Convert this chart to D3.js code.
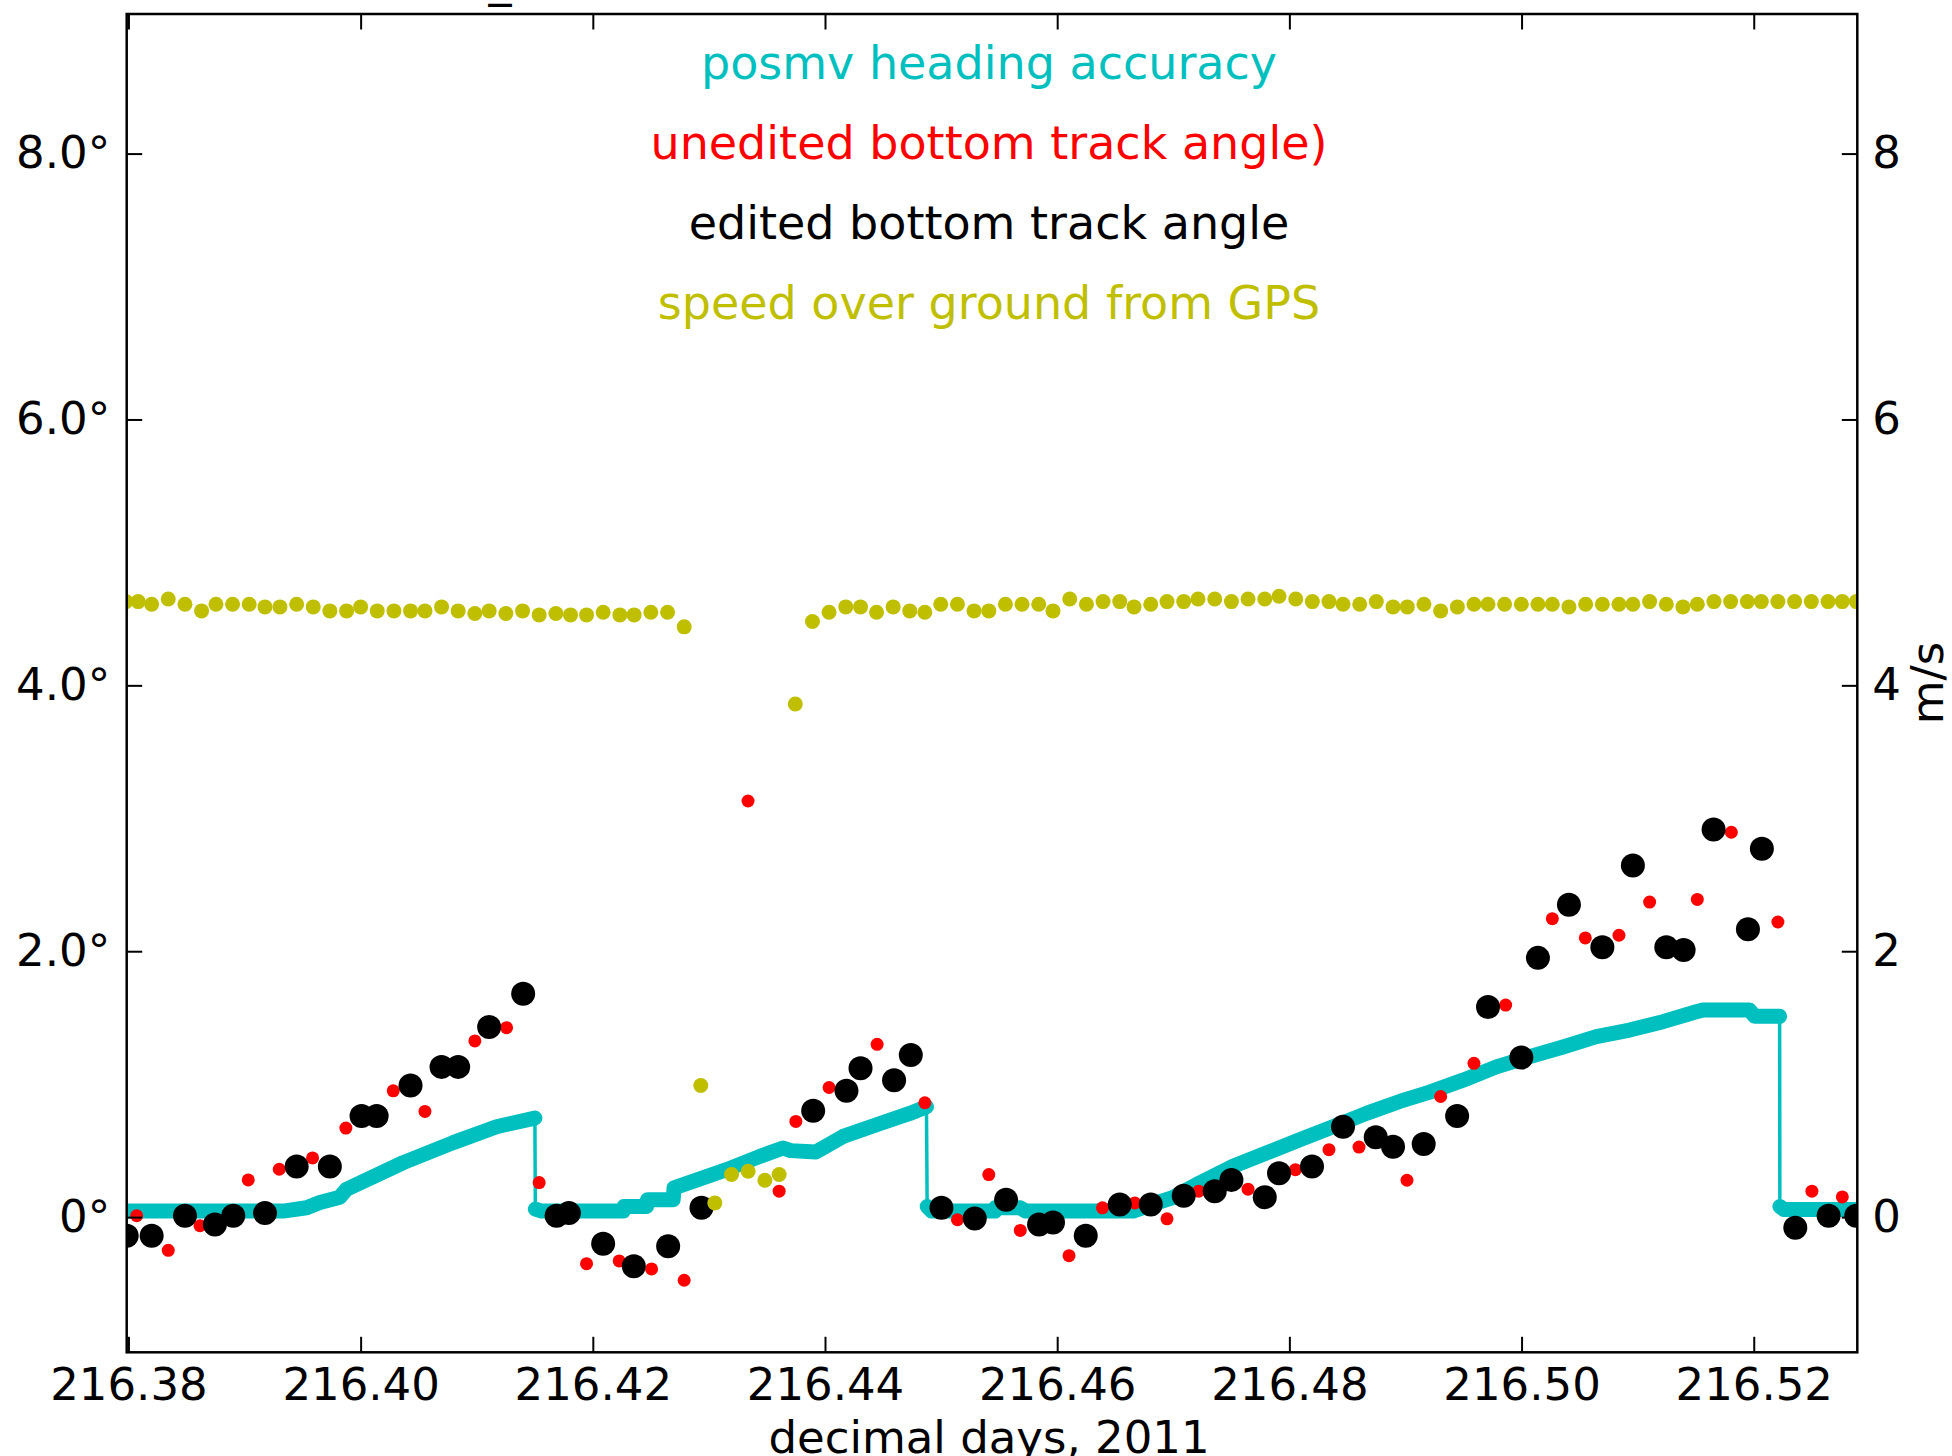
<!DOCTYPE html>
<html>
<head>
  <meta charset="utf-8">
  <title>posmv heading accuracy / bottom track angle</title>
  <script src="https://d3js.org/d3.v7.min.js"></script>
  <style type="text/css">
    body { margin: 0; padding: 0; background: #fff; }
    svg { display: block; font-family: "DejaVu Sans", sans-serif; }
  </style>
</head>
<body>
  <div id="chart"></div>
  <script>

    // axes
    var xTicks = [216.38, 216.40, 216.42, 216.44, 216.46, 216.48, 216.50, 216.52];
    var yTicks = [0, 2, 4, 6, 8];
    var legendLabels = ["posmv heading accuracy", "unedited bottom track angle)", "edited bottom track angle", "speed over ground from GPS"];
    var legendColors = ["#00bfbf", "#ff0000", "#000000", "#bfbf00"];

    // posmv heading accuracy (deg), vertices of the trace; a new run starts at each reset index
    var posmvDay = [216.3790, 216.39333, 216.39535, 216.39649, 216.39821, 216.39879, 216.40367, 216.40797, 216.41171, 216.41501,
      216.41505, 216.41560, 216.42261, 216.42270, 216.42463, 216.42470, 216.42692, 216.42700, 216.43152, 216.43439, 216.43639, 216.43705, 216.43921, 216.44156, 216.44444, 216.44730, 216.44874,
      216.44880, 216.44920, 216.45462, 216.45470, 216.45680, 216.45730, 216.46653, 216.46855, 216.46995, 216.47228, 216.47515, 216.47802, 216.48089, 216.48376, 216.48663, 216.48950, 216.49209, 216.49496, 216.49783, 216.50070, 216.50357, 216.50644, 216.50931, 216.51218, 216.51505, 216.51560, 216.51965, 216.52008, 216.52223,
      216.52225, 216.52260, 216.5300];
    var posmvAcc = [0.045, 0.045, 0.07, 0.11, 0.15, 0.21, 0.41, 0.56, 0.68, 0.745,
      0.06, 0.045, 0.045, 0.08, 0.08, 0.13, 0.13, 0.22, 0.357, 0.457, 0.52, 0.50, 0.49, 0.607, 0.695, 0.78, 0.83,
      0.08, 0.045, 0.045, 0.07, 0.07, 0.045, 0.045, 0.107, 0.147, 0.257, 0.382, 0.482, 0.582, 0.68, 0.78, 0.87, 0.94, 1.03, 1.13, 1.207, 1.28, 1.357, 1.407, 1.47, 1.545, 1.557, 1.557, 1.51, 1.51,
      0.08, 0.057, 0.057];
    var posmvResets = [10, 27, 56];

    // unedited bottom track angle (deg)
    var uneditedDay = [216.38071, 216.38343, 216.38616, 216.39032, 216.39299, 216.39586, 216.39873, 216.40281, 216.40554, 216.40984,
      216.41257, 216.41538, 216.41946, 216.42227, 216.42506, 216.42787, 216.43337, 216.43605, 216.43749, 216.44035,
      216.44449, 216.44860, 216.45141, 216.45411, 216.45682, 216.46102, 216.46390, 216.46668, 216.46946, 216.47219,
      216.47644, 216.48052, 216.48341, 216.48600, 216.49013, 216.49303, 216.49590, 216.49863, 216.50265, 216.50549,
      216.50839, 216.51103, 216.51514, 216.51807, 216.52208, 216.52501, 216.52763];
    var uneditedAngle = [0.01, -0.25, -0.065, 0.28, 0.36, 0.445, 0.67, 0.95, 0.795, 1.325,
      1.425, 0.26, -0.35, -0.33, -0.39, -0.475, 3.13, 0.195, 0.72, 0.975,
      1.30, 0.86, -0.02, 0.32, -0.10, -0.29, 0.07, 0.107, -0.013, 0.195,
      0.21, 0.357, 0.507, 0.527, 0.277, 0.907, 1.157, 1.595, 2.245, 2.10,
      2.12, 2.37, 2.39, 2.895, 2.22, 0.195, 0.152];

    // edited bottom track angle (deg)
    var editedDay = [216.37985, 216.38200, 216.38487, 216.38745, 216.38903, 216.39176, 216.39449, 216.39735, 216.40008, 216.40138,
      216.40430, 216.40697, 216.40840, 216.41107, 216.41400, 216.41688, 216.41794, 216.42089, 216.42353, 216.42649,
      216.42936, 216.43898, 216.44185, 216.44306, 216.44595, 216.44739, 216.45003, 216.45290, 216.45560, 216.45844,
      216.45964, 216.46246, 216.46539, 216.46806, 216.47090, 216.47357, 216.47501, 216.47788, 216.47911, 216.48195,
      216.48462, 216.48744, 216.48893, 216.49157, 216.49445, 216.49711, 216.49998, 216.50141, 216.50408, 216.50696,
      216.50959, 216.51247, 216.51396, 216.51654, 216.51950, 216.52070, 216.52358, 216.52645, 216.52883];
    var editedAngle = [-0.14, -0.14, 0.01, -0.055, 0.01, 0.03, 0.38, 0.38, 0.76, 0.76,
      0.99, 1.13, 1.13, 1.43, 1.68, 0.01, 0.03, -0.20, -0.37, -0.22,
      0.07, 0.80, 0.95, 1.12, 1.03, 1.22, 0.07, -0.01, 0.13, -0.055,
      -0.04, -0.14, 0.095, 0.095, 0.16, 0.195, 0.28, 0.15, 0.33, 0.38,
      0.68, 0.60, 0.53, 0.55, 0.76, 1.58, 1.20, 1.95, 2.35, 2.03,
      2.645, 2.03, 2.01, 2.915, 2.165, 2.77, -0.08, 0.01, 0.01];

    // speed over ground from GPS (m/s, right axis)
    var sogDay = [216.37978, 216.38084, 216.38200, 216.38343, 216.38487, 216.38630, 216.38754, 216.38897, 216.39040, 216.39176,
      216.39305, 216.39449, 216.39592, 216.39735, 216.39879, 216.40000, 216.40143, 216.40287, 216.40430, 216.40554,
      216.40697, 216.40840, 216.40984, 216.41107, 216.41251, 216.41395, 216.41538, 216.41682, 216.41808, 216.41946,
      216.42089, 216.42233, 216.42356, 216.42500, 216.42644, 216.42787, 216.42930, 216.43051, 216.43195, 216.43338,
      216.43482, 216.43605, 216.43744, 216.43892, 216.44035, 216.44179, 216.44306, 216.44444, 216.44587, 216.44730,
      216.44860, 216.44997, 216.45141, 216.45284, 216.45411, 216.45554, 216.45697, 216.45841, 216.45964, 216.46108,
      216.46252, 216.46395, 216.46539, 216.46662, 216.46806, 216.46946, 216.47090, 216.47213, 216.47357, 216.47501,
      216.47644, 216.47788, 216.47911, 216.48055, 216.48198, 216.48341, 216.48462, 216.48606, 216.48749, 216.48893,
      216.49016, 216.49159, 216.49303, 216.49447, 216.49590, 216.49711, 216.49854, 216.49998, 216.50141, 216.50265,
      216.50408, 216.50552, 216.50696, 216.50839, 216.50959, 216.51103, 216.51247, 216.51390, 216.51514, 216.51657,
      216.51801, 216.51945, 216.52065, 216.52208, 216.52352, 216.52496, 216.52640, 216.52763, 216.52884];
    var sogSpeed = [4.63, 4.63, 4.61, 4.65, 4.61, 4.56, 4.61, 4.61, 4.61, 4.59,
      4.59, 4.61, 4.59, 4.56, 4.56, 4.59, 4.56, 4.56, 4.56, 4.56,
      4.59, 4.56, 4.54, 4.56, 4.54, 4.56, 4.53, 4.54, 4.53, 4.53,
      4.55, 4.53, 4.53, 4.55, 4.55, 4.44, 0.99, 0.107, 0.32, 0.345,
      0.277, 0.32, 3.86, 4.48, 4.55, 4.59, 4.59, 4.55, 4.59, 4.56,
      4.55, 4.61, 4.61, 4.56, 4.56, 4.61, 4.61, 4.61, 4.56, 4.65,
      4.61, 4.63, 4.63, 4.59, 4.61, 4.63, 4.63, 4.65, 4.65, 4.63,
      4.65, 4.65, 4.67, 4.65, 4.63, 4.63, 4.61, 4.61, 4.63, 4.59,
      4.59, 4.61, 4.56, 4.59, 4.61, 4.61, 4.61, 4.61, 4.61, 4.61,
      4.59, 4.61, 4.61, 4.61, 4.61, 4.63, 4.61, 4.59, 4.61, 4.63,
      4.63, 4.63, 4.63, 4.63, 4.63, 4.63, 4.63, 4.63, 4.63];

    var W = 1952, H = 1456;
    var plotLeft = 126.7, plotRight = 1857.3, plotTop = 14, plotBottom = 1352.3;

    var svg = d3.select("#chart").append("svg")
      .attr("width", W)
      .attr("height", H)
      .attr("viewBox", [0, 0, W, H]);

    svg.append("rect").attr("width", W).attr("height", H).attr("fill", "#fff");

    var x = d3.scaleLinear().domain([216.37985, 216.52892]).range([plotLeft, plotRight]);
    var y = d3.scaleLinear().domain([-1.017, 9.05]).range([plotBottom, plotTop]);
    var y2 = d3.scaleLinear().domain([-1.017, 9.05]).range([plotBottom, plotTop]);

    svg.append("clipPath").attr("id", "plotclip")
      .append("rect")
      .attr("x", plotLeft).attr("y", plotTop)
      .attr("width", plotRight - plotLeft).attr("height", plotBottom - plotTop);

    var plot = svg.append("g").attr("clip-path", "url(#plotclip)");

    //posmv: thick band for each run, thin line through the resets
    var posmv = posmvDay.map(function (d, i) { return [d, posmvAcc[i]]; });
    var starts = [0].concat(posmvResets);
    var runs = starts.map(function (s, k) {
      var e = k + 1 < starts.length ? starts[k + 1] : posmv.length;
      return posmv.slice(s, e);
    });
    var line = d3.line().x(function (d) { return x(d[0]); }).y(function (d) { return y(d[1]); });

    plot.selectAll(".posmv-band")
      .data(runs)
      .join("path")
      .attr("class", "posmv-band")
      .attr("d", line)
      .attr("fill", "none")
      .attr("stroke", "#00bfbf")
      .attr("stroke-width", 15)
      .attr("stroke-linejoin", "round")
      .attr("stroke-linecap", "round");

    plot.append("path")
      .datum(posmv)
      .attr("d", line)
      .attr("fill", "none")
      .attr("stroke", "#00bfbf")
      .attr("stroke-width", 3.5);

    plot.selectAll(".unedited")
      .data(uneditedDay)
      .join("circle")
      .attr("class", "unedited")
      .attr("cx", function (d) { return x(d); })
      .attr("cy", function (d, i) { return y(uneditedAngle[i]); })
      .attr("r", 6.5)
      .attr("fill", "#ff0000");

    plot.selectAll(".edited")
      .data(editedDay)
      .join("circle")
      .attr("class", "edited")
      .attr("cx", function (d) { return x(d); })
      .attr("cy", function (d, i) { return y(editedAngle[i]); })
      .attr("r", 12)
      .attr("fill", "#000");

    plot.selectAll(".sog")
      .data(sogDay)
      .join("circle")
      .attr("class", "sog")
      .attr("cx", function (d) { return x(d); })
      .attr("cy", function (d, i) { return y2(sogSpeed[i]); })
      .attr("r", 7.5)
      .attr("fill", "#bfbf00");

    //axes, ticks pointing inward
    var fontSize = 45;

    var gx = svg.append("g")
      .attr("transform", "translate(0," + plotBottom + ")")
      .call(d3.axisBottom(x).tickValues(xTicks).tickSize(-15.5).tickPadding(16)
        .tickFormat(d3.format(".2f")));
    var gxTop = svg.append("g")
      .attr("transform", "translate(0," + plotTop + ")")
      .call(d3.axisTop(x).tickValues(xTicks).tickSize(-15.5).tickFormat(""));
    var gy = svg.append("g")
      .attr("transform", "translate(" + plotLeft + ",0)")
      .call(d3.axisLeft(y).tickValues(yTicks).tickSize(-15.5).tickPadding(16.5)
        .tickFormat(function (d) { return d === 0 ? "0°" : d.toFixed(1) + "°"; }));
    var gy2 = svg.append("g")
      .attr("transform", "translate(" + plotRight + ",0)")
      .call(d3.axisRight(y2).tickValues(yTicks).tickSize(-15.5).tickPadding(15)
        .tickFormat(d3.format("d")));

    [gx, gxTop, gy, gy2].forEach(function (g) {
      g.select(".domain").remove();
      g.selectAll(".tick line").attr("stroke", "#000").attr("stroke-width", 2);
      g.selectAll(".tick text")
        .attr("fill", "#000")
        .attr("font-size", fontSize)
        .attr("font-family", "DejaVu Sans, sans-serif");
    });

    svg.append("rect")
      .attr("x", plotLeft).attr("y", plotTop)
      .attr("width", plotRight - plotLeft).attr("height", plotBottom - plotTop)
      .attr("fill", "none")
      .attr("stroke", "#000")
      .attr("stroke-width", 2.5);

    // legend as coloured text lines
    svg.selectAll(".legend")
      .data(legendLabels)
      .join("text")
      .attr("class", "legend")
      .attr("x", (plotLeft + plotRight) / 2 - 3)
      .attr("y", function (d, i) { return 79 + i * 80; })
      .attr("text-anchor", "middle")
      .attr("font-size", 46)
      .attr("fill", function (d, i) { return legendColors[i]; })
      .text(function (d) { return d; });

    svg.append("text")
      .attr("x", (plotLeft + plotRight) / 2 - 3)
      .attr("y", 1453)
      .attr("text-anchor", "middle")
      .attr("font-size", fontSize)
      .text("decimal days, 2011");

    svg.append("text")
      .attr("transform", "translate(1943," + ((plotTop + plotBottom) / 2) + ") rotate(-90)")
      .attr("text-anchor", "middle")
      .attr("font-size", fontSize)
      .text("m/s");

    // title sits above the canvas, only its underscore shows
    svg.append("text")
      .attr("x", 500)
      .attr("y", -4)
      .attr("text-anchor", "middle")
      .attr("font-size", 46)
      .text("_");

  </script>
</body>
</html>
